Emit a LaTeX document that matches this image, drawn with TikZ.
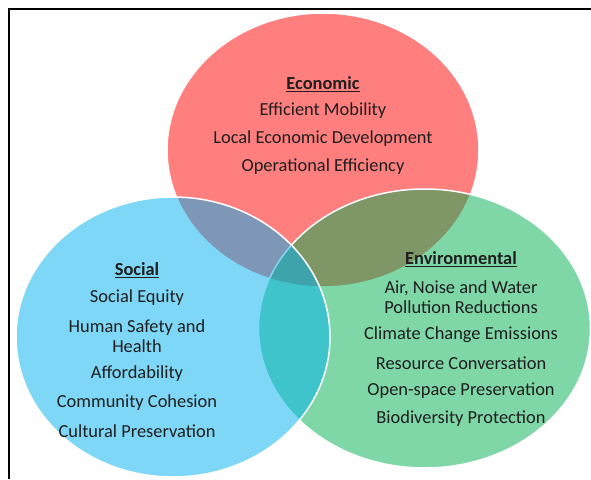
\documentclass[tikz,border=0pt]{standalone}
\usepackage{fontspec}
\setmainfont{Carlito}
\definecolor{econ}{RGB}{255,0,0}
\definecolor{envc}{RGB}{0,176,80}
\definecolor{socc}{RGB}{0,176,240}
\definecolor{txt}{RGB}{30,30,30}
\begin{document}
\begin{tikzpicture}[x=1pt,y=-1pt,
  circ/.style={draw=white,line width=1.5pt,fill opacity=0.5},
  lbl/.style={text=txt,font=\fontsize{18.4}{20}\selectfont,align=center,inner sep=0pt},
  ttl/.style={lbl,font=\fontsize{18.4}{20}\selectfont\bfseries},
  frame/.style={draw=black,line width=2pt}]
\useasboundingbox (0,0) rectangle (591,479);
% ellipses
\path[circ,fill=econ] (323,150) ellipse [x radius=156,y radius=137];
\path[circ,fill=envc] (424.5,328.5) ellipse [x radius=166,y radius=139.5];
\path[circ,fill=socc] (173,337) ellipse [x radius=157,y radius=140];
% frame
\coordinate (fa) at (8.5,479);
\coordinate (fb) at (8.5,9);
\coordinate (fc) at (591,9);
\draw[frame] (fa) -- (fb) -- (fc);
% economic
\node[ttl] (et) at (323,84) {\underline{Economic}};
\node[lbl] (e1) at (323,111) {Efficient Mobility};
\node[lbl] (e2) at (323,139) {Local Economic Development};
\node[lbl] (e3) at (323,167) {Operational Efficiency};
% social
\node[ttl] (st) at (137,270) {\underline{Social}};
\node[lbl] (s1) at (137,298) {Social Equity};
\node[lbl] (s2) at (137,336.5) {Human Safety and\\Health};
\node[lbl] (s3) at (137,374) {Affordability};
\node[lbl] (s4) at (137,403) {Community Cohesion};
\node[lbl] (s5) at (137,431) {Cultural Preservation};
% environmental
\node[ttl] (vt) at (461,259) {\underline{Environmental}};
\node[lbl] (v1) at (461,297) {Air, Noise and Water\\Pollution Reductions};
\node[lbl] (v2) at (461,335) {Climate Change Emissions};
\node[lbl] (v3) at (461,363) {Resource Conversation};
\node[lbl] (v4) at (461,391) {Open-space Preservation};
\node[lbl] (v5) at (461,419) {Biodiversity Protection};
\end{tikzpicture}
\end{document}
